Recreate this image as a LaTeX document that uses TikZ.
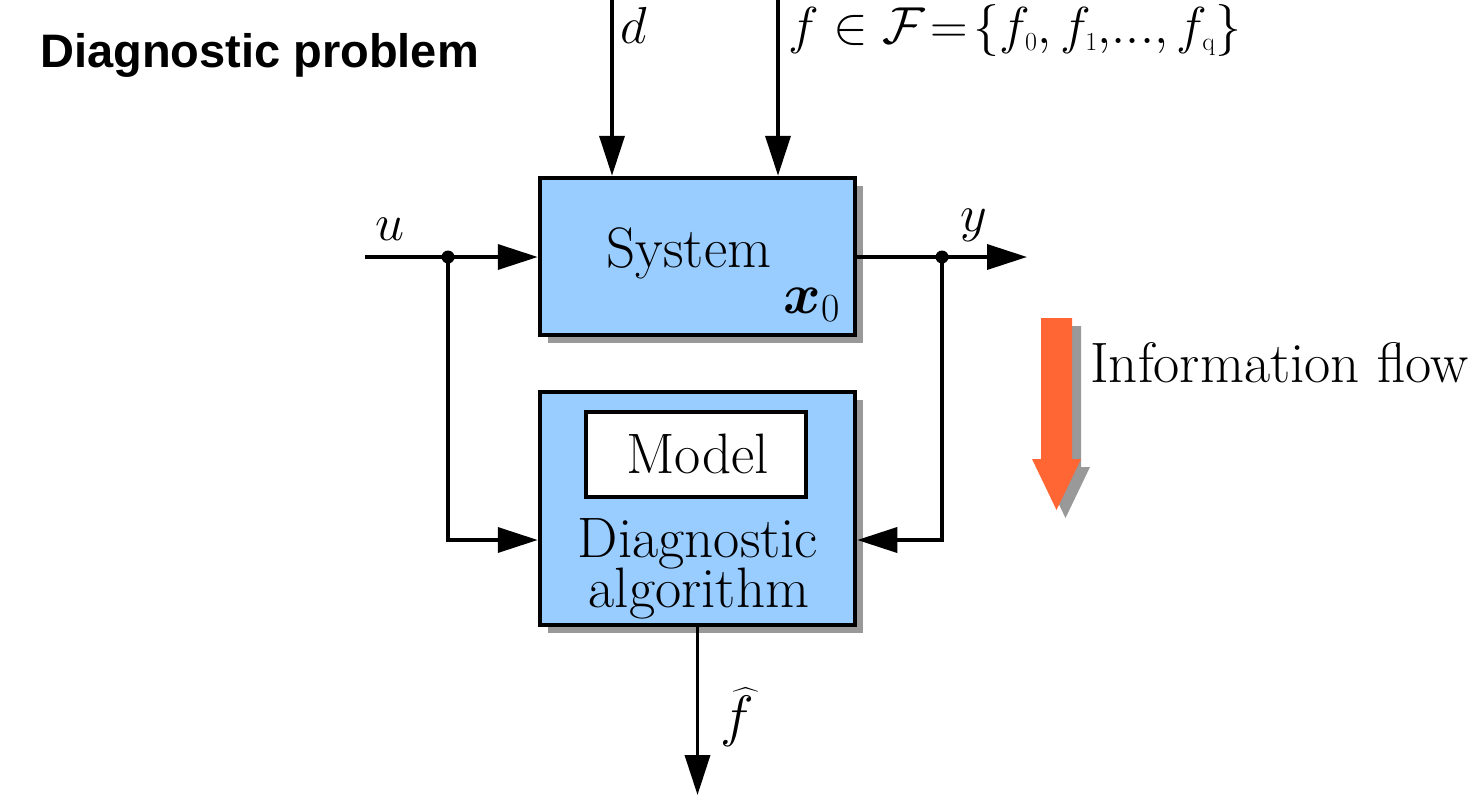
\RequirePackage{fix-cm}
\documentclass[tikz,border=0pt]{standalone}
\usepackage{amsmath,bm}
\usepackage{fontspec}
\newfontfamily\titlefont{Liberation Sans}
\usetikzlibrary{arrows.meta,shadows}

\definecolor{boxblue}{HTML}{99CCFF}
\definecolor{shadowgray}{HTML}{999999}
\definecolor{flowred}{HTML}{FF6633}

\tikzset{
  block/.style={draw=black, line width=4.5pt, fill=boxblue, inner sep=0pt,
    drop shadow={shadow xshift=8pt, shadow yshift=-8pt, fill=shadowgray, opacity=1}},
  modelbox/.style={draw=black, line width=4.5pt, fill=white, inner sep=0pt},
  conn/.style={line width=3.6pt, -{Triangle[length=40pt,width=25pt]}},
  wire/.style={line width=3.6pt},
  junction/.style={circle, fill=black, inner sep=0pt, minimum size=13pt},
  lbl/.style={inner sep=0pt, font=\fontsize{52}{62}\selectfont},
  boxtext/.style={inner sep=0pt, font=\fontsize{57}{68}\selectfont},
}

\begin{document}
\begin{tikzpicture}[x=1pt,y=-1pt]
\useasboundingbox (0,0) rectangle (1482,795);

% title
\node[inner sep=0pt, anchor=base west, font=\titlefont\bfseries\fontsize{47}{56}\selectfont]
  (title) at (40,67) {Diagnostic problem};

% blocks
\node[block, minimum width=315pt, minimum height=157pt] (sys) at (697.5,256.5) {};
\node[block, minimum width=315pt, minimum height=233pt] (diag) at (697.5,508.5) {};
\node[modelbox, minimum width=220pt, minimum height=85pt] (model) at (696,454.5) {};

% block texts
\node[boxtext, anchor=base] (systxt) at (689,267) {System};
\node[boxtext, anchor=base east] (x0) at (840,313) {$\bm{x}_0$};
\node[boxtext, anchor=base] (modeltxt) at (697.5,473) {Model};
\node[boxtext, anchor=base] (diagtxt) at (698,557) {Diagnostic};
\node[boxtext, anchor=base] (algtxt) at (699,607) {algorithm};

% helper coordinates
\coordinate (uin) at (365,257);
\coordinate (ju) at (448,257);
\coordinate (yout) at (1027,257);
\coordinate (jy) at (942,257);
\coordinate (low) at (0,540);
\coordinate (dtop) at (612,0);
\coordinate (ftop) at (778,0);
\coordinate (fout) at (697.5,795);

% connectors
\draw[conn] (uin) -- (sys.west |- uin);
\draw[wire] (sys.east |- yout) -- (jy);
\draw[conn] (jy) -- (yout);
\draw[conn] (ju) |- (diag.west |- low);
\draw[conn] (jy) |- (diag.east |- low);
\draw[conn] (dtop) -- (sys.north -| dtop);
\draw[conn] (ftop) -- (sys.north -| ftop);
\draw[conn] (diag.south) -- (fout);
\node[junction] (dotu) at (ju) {};
\node[junction] (doty) at (jy) {};

% signal labels
\node[lbl] (ulbl) at (390,229) {$u$};
\node[lbl] (ylbl) at (974,225) {$y$};
\node[lbl, anchor=base west] (dlbl) at (620,43) {$d$};
\node[lbl, anchor=base west] (flbl) at (788,43)
  {$f\in\mathcal{F}\!=\!\{f_{\scriptscriptstyle 0}, f_{\scriptscriptstyle 1}{,}{.}{.}{.}{,}\,f_{\scriptscriptstyle \mathrm{q}}\}$};
\node[boxtext, anchor=base west] (fhat) at (720,735) {$\widehat{f}$};

% information flow arrow
\fill[shadowgray, shift={(9,8)}] (1041,318) -- (1072,318) -- (1072,459) -- (1081,459)
  -- (1056.5,510) -- (1032,459) -- (1041,459) -- cycle;
\fill[flowred] (1041,318) -- (1072,318) -- (1072,459) -- (1081,459)
  -- (1056.5,510) -- (1032,459) -- (1041,459) -- cycle;
\node[boxtext, anchor=base west] (flow) at (1090,382) {Information flow};
\end{tikzpicture}
\end{document}
